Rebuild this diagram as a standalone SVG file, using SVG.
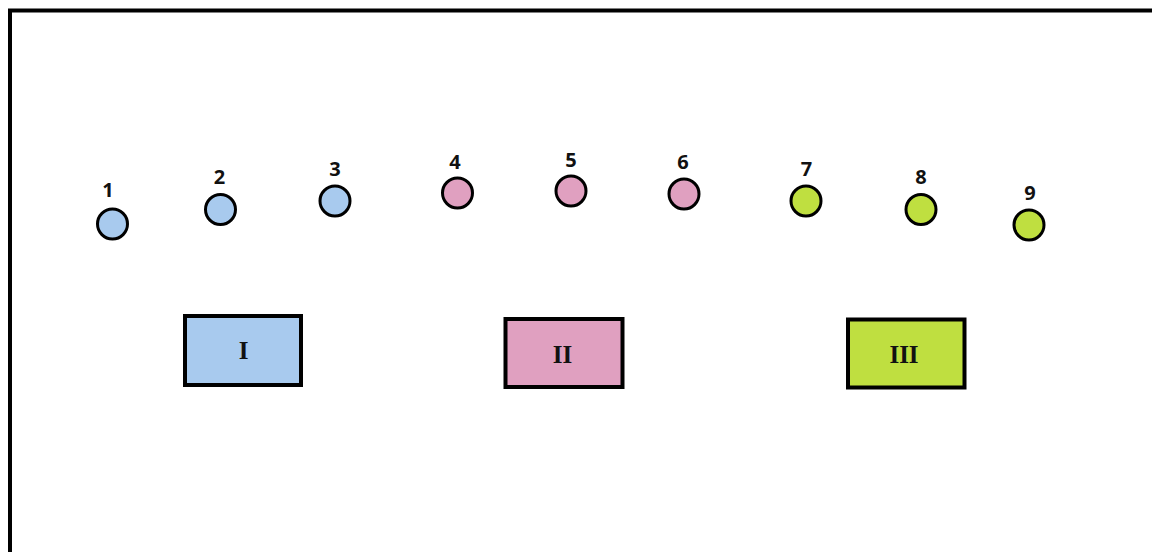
<svg xmlns="http://www.w3.org/2000/svg" width="1152" height="552" viewBox="0 0 1152 552">
  <style>
    .frame { fill: #ffffff; stroke: #000000; stroke-width: 4; }
    .dot { stroke: #000000; stroke-width: 3; }
    .box { stroke: #000000; stroke-width: 4; }
    .blue { fill: #a8caee; }
    .pink { fill: #e0a0c0; }
    .green { fill: #bfdf40; }
    .num { font-family: "Open Sans", "Liberation Sans", sans-serif; font-weight: 700; font-size: 20px; fill: #111111; text-anchor: middle; }
    .roman { font-family: "Liberation Serif", serif; font-weight: 700; font-size: 25px; fill: #111111; text-anchor: middle; }
  </style>

  <rect width="1152" height="552" fill="#ffffff"/>
  <!-- outer frame, open past the right and bottom edges -->
  <rect class="frame" x="10" y="10.5" width="1160" height="560"/>

  <g id="connectors"/>

  <g id="n1"><circle class="dot blue" cx="112.5" cy="224" r="15"/><text class="num" x="108" y="197">1</text></g>
  <g id="n2"><circle class="dot blue" cx="220.5" cy="209.5" r="15"/><text class="num" x="219.5" y="184">2</text></g>
  <g id="n3"><circle class="dot blue" cx="335" cy="201" r="15"/><text class="num" x="335" y="176">3</text></g>
  <g id="n4"><circle class="dot pink" cx="457.5" cy="193" r="15"/><text class="num" x="455" y="169">4</text></g>
  <g id="n5"><circle class="dot pink" cx="571" cy="191" r="15"/><text class="num" x="571" y="167">5</text></g>
  <g id="n6"><circle class="dot pink" cx="684" cy="194" r="15"/><text class="num" x="683" y="169">6</text></g>
  <g id="n7"><circle class="dot green" cx="806" cy="201" r="15"/><text class="num" x="806.5" y="175.5">7</text></g>
  <g id="n8"><circle class="dot green" cx="921" cy="209.5" r="15"/><text class="num" x="921" y="184">8</text></g>
  <g id="n9"><circle class="dot green" cx="1029" cy="225" r="15"/><text class="num" x="1030" y="200">9</text></g>

  <g id="groupI"><rect class="box blue" x="185" y="316" width="116" height="69"/><text class="roman" x="243.5" y="359">I</text></g>
  <g id="groupII"><rect class="box pink" x="505.5" y="319" width="117" height="68"/><text class="roman" x="562.5" y="363">II</text></g>
  <g id="groupIII"><rect class="box green" x="848" y="319.5" width="116.5" height="68"/><text class="roman" x="904" y="363">III</text></g>
</svg>
